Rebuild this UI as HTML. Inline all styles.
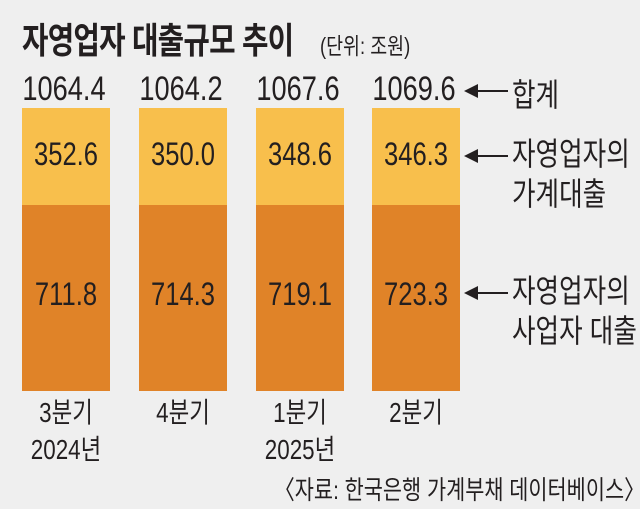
<!DOCTYPE html>
<html><head><meta charset="utf-8"><style>
body{margin:0;width:640px;height:509px;background:#efefef;overflow:hidden;position:relative;font-family:"Liberation Sans","Noto Sans CJK KR",sans-serif;color:#231f20}
.t{position:absolute;white-space:nowrap;transform-origin:left top;transform:scaleX(0.8)}
.c{position:absolute;white-space:nowrap;transform-origin:center top;transform:scaleX(0.8);text-align:center}
.bar{position:absolute;width:88px}
.y{background:#f8bf4c}.o{background:#e08328}
.arr{position:absolute;height:2px;background:#231f20}
.arr:before{content:"";position:absolute;left:-12px;top:-6px;border-right:14px solid #231f20;border-top:7px solid transparent;border-bottom:7px solid transparent}
</style></head><body>
<div class="t" style="left:22px;top:12px;font-size:36px;font-weight:bold;letter-spacing:-1px">자영업자 대출규모 추이</div>
<div class="t" style="left:320px;top:27px;font-size:23px">(단위: 조원)</div>

<div class="bar y" style="left:22px;top:108px;height:97px"></div><div class="bar o" style="left:22px;top:205px;height:186px"></div>
<div class="bar y" style="left:139px;top:108px;height:97px"></div><div class="bar o" style="left:139px;top:205px;height:186px"></div>
<div class="bar y" style="left:256px;top:108px;height:97px"></div><div class="bar o" style="left:256px;top:205px;height:186px"></div>
<div class="bar y" style="left:372px;top:108px;height:97px"></div><div class="bar o" style="left:372px;top:205px;height:186px"></div>

<div class="c" style="left:4px;width:120px;top:70px;font-size:34px">1064.4</div>
<div class="c" style="left:121px;width:120px;top:70px;font-size:34px">1064.2</div>
<div class="c" style="left:238px;width:120px;top:70px;font-size:34px">1067.6</div>
<div class="c" style="left:354px;width:120px;top:70px;font-size:34px">1069.6</div>

<div class="c" style="left:6px;width:120px;top:136px;font-size:32px">352.6</div>
<div class="c" style="left:123px;width:120px;top:136px;font-size:32px">350.0</div>
<div class="c" style="left:240px;width:120px;top:136px;font-size:32px">348.6</div>
<div class="c" style="left:356px;width:120px;top:136px;font-size:32px">346.3</div>

<div class="c" style="left:6px;width:120px;top:276px;font-size:32px">711.8</div>
<div class="c" style="left:123px;width:120px;top:276px;font-size:32px">714.3</div>
<div class="c" style="left:240px;width:120px;top:276px;font-size:32px">719.1</div>
<div class="c" style="left:356px;width:120px;top:276px;font-size:32px">723.3</div>

<div class="arr" style="left:476px;top:90px;width:32px"></div>
<div class="t" style="left:512px;top:70px;font-size:32px">합계</div>
<div class="arr" style="left:476px;top:155px;width:32px"></div>
<div class="t" style="left:512px;top:134px;font-size:32px;line-height:40px">자영업자의<br>가계대출</div>
<div class="arr" style="left:476px;top:292px;width:32px"></div>
<div class="t" style="left:512px;top:271px;font-size:32px;line-height:40px">자영업자의<br>사업자 대출</div>

<div class="c" style="left:6px;width:120px;top:394px;font-size:28px;line-height:37px">3분기<br>2024년</div>
<div class="c" style="left:123px;width:120px;top:394px;font-size:28px;line-height:37px">4분기</div>
<div class="c" style="left:240px;width:120px;top:394px;font-size:28px;line-height:37px">1분기<br>2025년</div>
<div class="c" style="left:356px;width:120px;top:394px;font-size:28px;line-height:37px">2분기</div>

<div class="t" style="left:274px;top:470px;font-size:26px">〈자료: 한국은행 가계부채 데이터베이스〉</div>
</body></html>
